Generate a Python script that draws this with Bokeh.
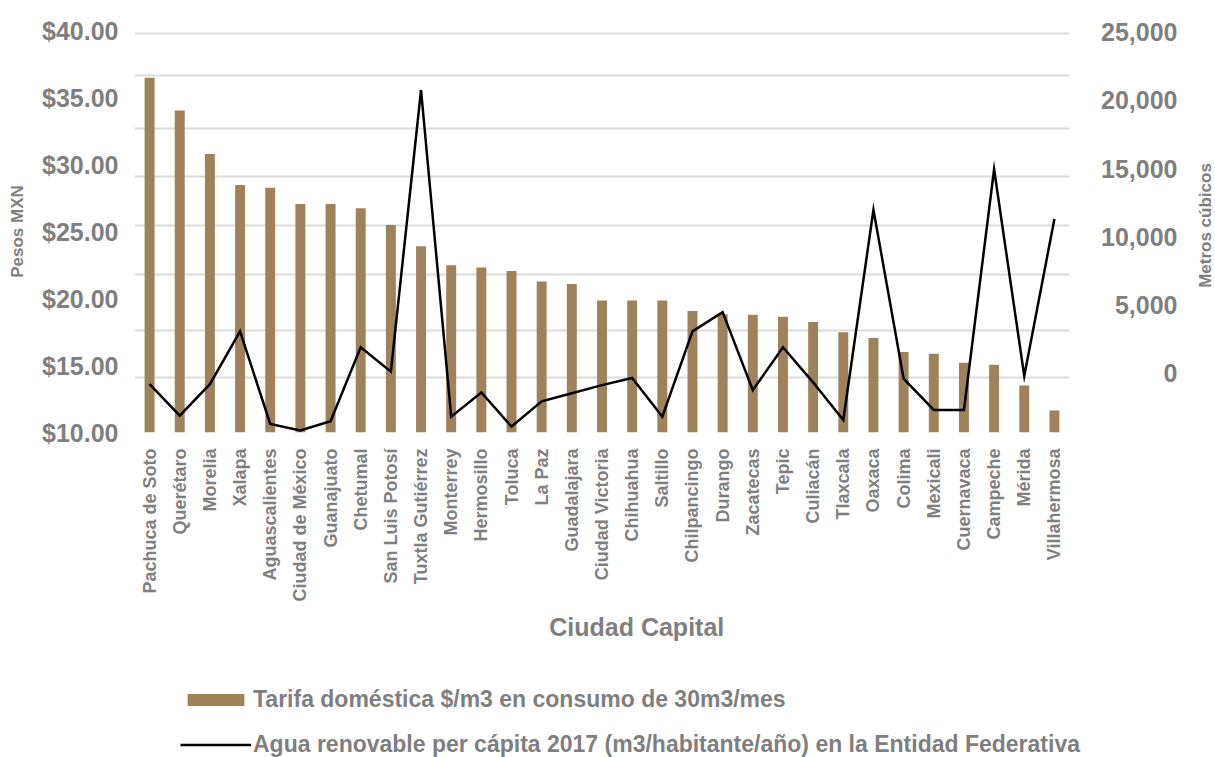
import math

from bokeh.embed import file_html
from bokeh.layouts import column, row
from bokeh.models import (FactorRange, FixedTicker, Label, Legend, LegendItem,
                          NumeralTickFormatter, Range1d)
from bokeh.plotting import figure
from bokeh.resources import INLINE

# Capitales estatales, ordenadas por tarifa
CIUDADES = [
    "Pachuca de Soto", "Querétaro", "Morelia", "Xalapa", "Aguascalientes",
    "Ciudad de México", "Guanajuato", "Chetumal", "San Luis Potosí",
    "Tuxtla Gutiérrez", "Monterrey", "Hermosillo", "Toluca", "La Paz",
    "Guadalajara", "Ciudad Victoria", "Chihuahua", "Saltillo", "Chilpancingo",
    "Durango", "Zacatecas", "Tepic", "Culiacán", "Tlaxcala", "Oaxaca",
    "Colima", "Mexicali", "Cuernavaca", "Campeche", "Mérida", "Villahermosa",
]

# Tarifa doméstica ($/m3, consumo de 30 m3/mes)
TARIFA = [
    36.47, 34.03, 30.78, 28.47, 28.27, 27.05, 27.05, 26.73, 25.49, 23.90,
    22.49, 22.32, 22.05, 21.27, 21.08, 19.86, 19.86, 19.86, 19.07, 18.83,
    18.78, 18.63, 18.25, 17.49, 17.05, 16.00, 15.88, 15.20, 15.05, 13.51,
    11.64,
]

# Agua renovable per cápita 2017 (m3/habitante/año)
AGUA = [
    -800, -3100, -800, 3070, -3710, -4190, -3520, 1910, 120, 20760,
    -3180, -1410, -3900, -2060, -1460, -870, -340, -3180, 3070, 4480,
    -1240, 1910, -670, -3420, 11980, -390, -2690, -2690, 14940, -200,
    11310,
]

TICKS_PESOS = [10, 15, 20, 25, 30, 35, 40]
TICKS_M3 = [0, 5000, 10000, 15000, 20000, 25000]

SERIE_BARRAS = "Tarifa doméstica $/m3 en consumo de 30m3/mes"
SERIE_LINEA = "Agua renovable per cápita 2017 (m3/habitante/año) en la Entidad Federativa"
TITULO_X = "Ciudad Capital"
TITULO_Y = "Pesos MXN"
TITULO_Y2 = "Metros cúbicos"

# estilo
FONT = "Liberation Sans"
GRIS = "#7f7f7f"
CAFE = "#a0825a"
GRID_LEVELS = [39.78, 36.64, 32.69, 29.10, 25.45, 21.79, 17.61, 14.10]
FIG_SP = "\u2007"   # espacio de cifra
BORDE_SUP, BORDE_INF = 30, 248
RANGO_M3 = (-4340, 25120)


def estilo_eje(ax, size_ticks, size_label):
    ax.axis_line_color = None
    ax.major_tick_line_color = None
    ax.minor_tick_line_color = None
    ax.major_label_text_font = FONT
    ax.major_label_text_font_style = "bold"
    ax.major_label_text_font_size = size_ticks
    ax.major_label_text_color = GRIS
    ax.axis_label_text_font = FONT
    ax.axis_label_text_font_style = "bold"
    ax.axis_label_text_font_size = size_label
    ax.axis_label_text_color = GRIS


# ---------------- gráfica principal ----------------
p = figure(
    width=1071, height=680,
    x_range=FactorRange(*CIUDADES, range_padding=0),
    y_range=Range1d(10, 40),
    output_backend="svg", toolbar_location=None,
    min_border_left=134, min_border_right=2,
    min_border_top=BORDE_SUP, min_border_bottom=BORDE_INF,
)
p.outline_line_color = None
p.background_fill_color = "white"
p.extra_y_ranges = {"m3": Range1d(*RANGO_M3)}

bars = p.vbar(x=CIUDADES, top=TARIFA, bottom=10, width=0.33,
              fill_color=CAFE, line_color=None)
linea = p.line(x=CIUDADES, y=AGUA, y_range_name="m3",
               line_color="black", line_width=2.5, line_join="miter")

# rejilla horizontal
p.xgrid.visible = False
p.ygrid.ticker = FixedTicker(ticks=GRID_LEVELS)
p.ygrid.grid_line_color = "#dcdcdc"
p.ygrid.grid_line_width = 2
p.ygrid.level = "underlay"

# eje izquierdo (pesos)
ya = p.yaxis[0]
estilo_eje(ya, "25px", "17px")
ya.ticker = FixedTicker(ticks=TICKS_PESOS)
ya.formatter = NumeralTickFormatter(format="$0.00")
ya.major_label_standoff = 10
ya.axis_label = TITULO_Y
ya.axis_label_standoff = 12

# eje inferior (ciudades); el título va un poco a la derecha del centro
xa = p.xaxis[0]
estilo_eje(xa, "18px", "25px")
xa.major_label_orientation = math.pi / 2
xa.major_label_standoff = 10
xa.axis_label = FIG_SP * 5 + TITULO_X
xa.axis_label_standoff = 8

# ---------------- eje secundario (metros cúbicos) ----------------
lado = figure(
    width=144, height=680,
    x_axis_type=None,
    x_range=Range1d(0, 1), y_range=Range1d(*RANGO_M3),
    output_backend="svg", toolbar_location=None,
    min_border_left=116, min_border_right=0,
    min_border_top=BORDE_SUP, min_border_bottom=BORDE_INF,
)
lado.outline_line_color = None
lado.xgrid.visible = False
lado.ygrid.visible = False
yb = lado.yaxis[0]
estilo_eje(yb, "25px", "17px")
yb.ticker = FixedTicker(ticks=TICKS_M3)
yb.formatter = NumeralTickFormatter(format="0,0")
yb.major_label_standoff = 4
lado.add_layout(Label(
    x=18, y=207, x_units="screen", y_units="screen", angle=math.pi / 2,
    text=TITULO_Y2, text_align="center", text_baseline="middle",
    text_font=FONT, text_font_style="bold", text_font_size="17px",
    text_color=GRIS,
))

# ---------------- leyenda ----------------
ley = figure(
    width=1215, height=77,
    x_axis_type=None, y_axis_type=None,
    x_range=Range1d(0, 1), y_range=Range1d(0, 1),
    output_backend="svg", toolbar_location=None,
    min_border=0,
)
ley.outline_line_color = None
ley.xgrid.visible = False
ley.ygrid.visible = False
# muestras de la leyenda: un punto fuera del área visible
muestra_barra = ley.vbar(x=[-5], top=[-5], bottom=[-6], width=0.3,
                         fill_color=CAFE, line_color=None)
muestra_linea = ley.line(x=[-5], y=[-5], line_color="black", line_width=2.5)

legend = Legend(
    items=[LegendItem(label=SERIE_BARRAS, renderers=[muestra_barra]),
           LegendItem(label=SERIE_LINEA, renderers=[muestra_linea])],
    location=(180, -1),
    orientation="vertical",
    glyph_width=71, glyph_height=15,
    label_standoff=2, spacing=18, padding=0, margin=0,
    border_line_color=None, background_fill_alpha=0,
    label_text_font=FONT, label_text_font_style="bold",
    label_text_font_size="23px", label_text_color=GRIS,
)
ley.add_layout(legend, "center")

layout = column(row(p, lado, spacing=0), ley, spacing=0)

open("out.html", "w").write(file_html(layout, INLINE))
